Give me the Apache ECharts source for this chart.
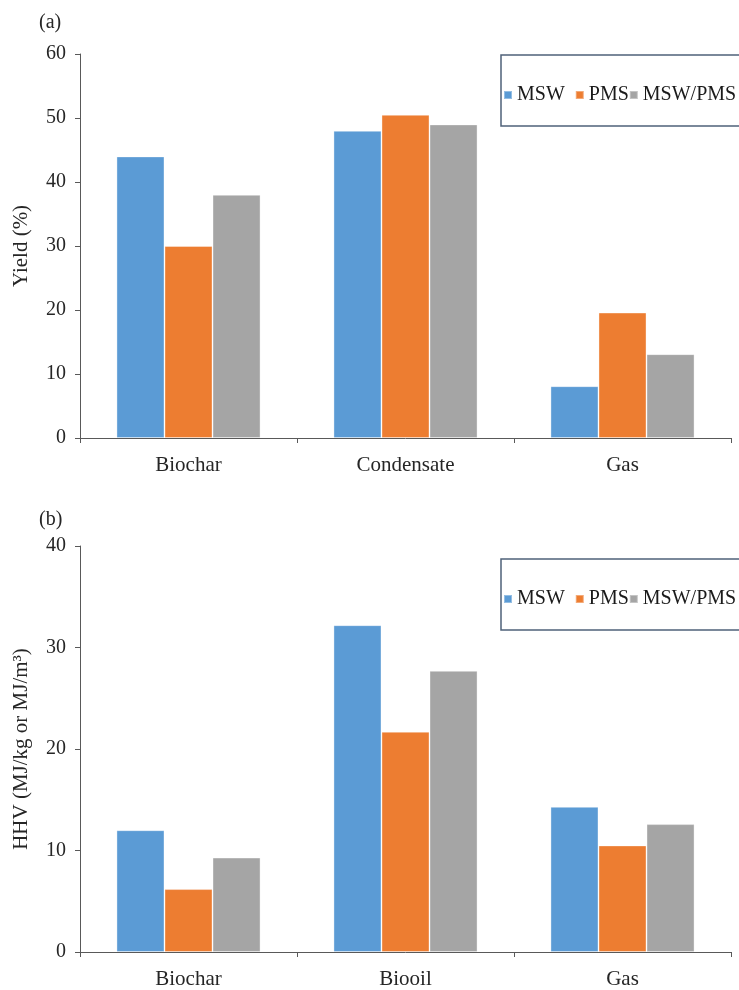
<!DOCTYPE html>
<html>
<head>
<meta charset="utf-8">
<script src="https://cdn.jsdelivr.net/npm/echarts@6/dist/echarts.min.js"></script>
<style>
html,body{margin:0;padding:0;background:#fff;}
#chart{width:739px;height:990px;}
</style>
</head>
<body>
<div id="chart"></div>
<script>
// ---- data ----
const categoriesA = ['Biochar', 'Condensate', 'Gas'];
const categoriesB = ['Biochar', 'Biooil', 'Gas'];
const seriesNames = ['MSW', 'PMS', 'MSW/PMS'];
const yieldMSW = [44, 48, 8.1];
const yieldPMS = [30, 50.5, 19.6];
const yieldMix = [38, 49, 13.1];
const hhvMSW = [12, 32.2, 14.3];
const hhvPMS = [6.2, 21.7, 10.5];
const hhvMix = [9.3, 27.7, 12.6];
const yAxisA = { min: 0, max: 60, interval: 10, name: 'Yield (%)' };
const yAxisB = { min: 0, max: 40, interval: 10, name: 'HHV (MJ/kg or MJ/m\u00B3)' };
const colors = ['#5B9BD5', '#ED7D31', '#A5A5A5'];

const FONT = '"Liberation Serif", "Times New Roman", serif';
const axisColor = '#595959';
const textColor = '#262626';

function xAxisCfg(cats, gridIndex) {
  return {
    type: 'category', gridIndex, data: cats,
    axisLine: { show: true, lineStyle: { color: axisColor, width: 1 } },
    axisTick: { show: true, length: 5, lineStyle: { color: axisColor } },
    axisLabel: { color: textColor, fontFamily: FONT, fontSize: 21, margin: 17 }
  };
}
function yAxisCfg(cfg, gridIndex) {
  return {
    type: 'value', gridIndex, min: cfg.min, max: cfg.max, interval: cfg.interval,
    name: cfg.name, nameLocation: 'middle', nameGap: 48,
    nameTextStyle: { color: textColor, fontFamily: FONT, fontSize: 21 },
    axisLine: { show: true, lineStyle: { color: axisColor, width: 1 } },
    axisTick: { show: true, length: 5, lineStyle: { color: axisColor } },
    axisLabel: { color: textColor, fontFamily: FONT, fontSize: 20, margin: 14 },
    splitLine: { show: false }
  };
}
function legendCfg(top) {
  return {
    left: 501, top: top, orient: 'horizontal', width: 245,
    data: seriesNames,
    itemWidth: 8, itemHeight: 8, itemGap: 0, icon: 'rect',
    padding: [30, 12, 21, 2],
    borderColor: '#4F6279', borderWidth: 1.5,
    textStyle: { color: '#1a1a1a', fontFamily: FONT, fontSize: 20 },
    formatter: function (n) { return n === 'MSW' ? 'MSW  ' : n; }
  };
}
const valsA = [yieldMSW, yieldPMS, yieldMix];
const valsB = [hhvMSW, hhvPMS, hhvMix];
const series = [];
[valsA, valsB].forEach(function (vals, gi) {
  vals.forEach(function (v, i) {
    series.push({
      type: 'bar', name: seriesNames[i], xAxisIndex: gi, yAxisIndex: gi,
      data: v, barGap: '0%', barCategoryGap: '33.6%',
      itemStyle: { color: colors[i], borderColor: 'rgba(255,255,255,0.35)', borderWidth: 1 },
      emphasis: { disabled: true }, animation: false
    });
  });
});

const chart = echarts.init(document.getElementById('chart'), null, { renderer: 'canvas' });
chart.setOption({
  backgroundColor: '#fff',
  animation: false,
  title: [
    { text: '(a)', left: 34, top: 8, textStyle: { fontFamily: FONT, fontSize: 20, fontWeight: 'normal', color: textColor } },
    { text: '(b)', left: 34, top: 505, textStyle: { fontFamily: FONT, fontSize: 20, fontWeight: 'normal', color: textColor } }
  ],
  legend: [legendCfg(55), legendCfg(559)],
  grid: [
    { left: 80, right: 8, top: 54, height: 384 },
    { left: 80, right: 8, top: 546, height: 406 }
  ],
  xAxis: [xAxisCfg(categoriesA, 0), xAxisCfg(categoriesB, 1)],
  yAxis: [yAxisCfg(yAxisA, 0), yAxisCfg(yAxisB, 1)],
  series: series
});
</script>
</body>
</html>
